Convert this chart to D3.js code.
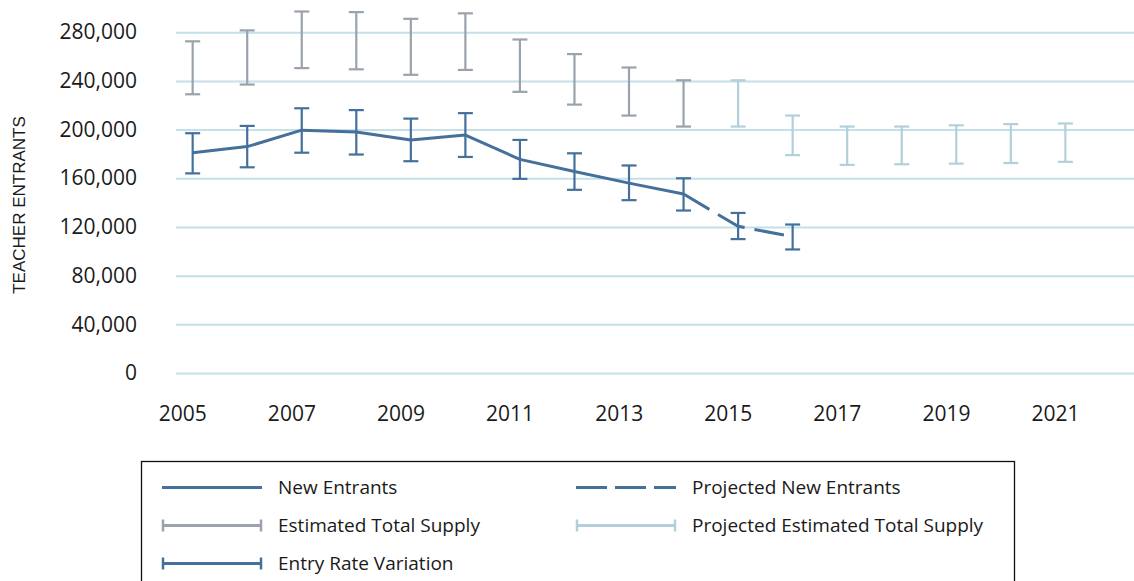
<!DOCTYPE html>
<html>
<head>
<meta charset="utf-8">
<script src="https://cdn.jsdelivr.net/npm/d3@7"></script>
<style>
  html, body { margin: 0; padding: 0; background: #fff; }
  svg { display: block; }
</style>
</head>
<body>
<svg id="chart" width="1134" height="581"></svg>
<script>
// ---- data ----
const years = [2005, 2006, 2007, 2008, 2009, 2010, 2011, 2012, 2013, 2014, 2015, 2016, 2017, 2018, 2019, 2020, 2021];
const entrantYears = [2005, 2006, 2007, 2008, 2009, 2010, 2011, 2012, 2013, 2014, 2015, 2016];
const newEntrants = [181000, 186000, 199500, 198000, 191500, 195500, 175500, 165500, 156000, 147000, 120500, 112000];
const entrantsHigh = [197000, 203000, 217500, 216000, 209000, 213500, 191500, 180500, 170500, 160000, 131500, 122000];
const entrantsLow = [164000, 169000, 181000, 179500, 174000, 177500, 159500, 150500, 142000, 133500, 110000, 101500];
const projectedFromYear = 2014;
const supplyHigh = [272500, 281500, 297000, 296500, 291000, 295500, 274000, 262000, 251000, 240500, 240500, 211500, 202500, 202500, 203500, 204500, 205000];
const supplyLow = [229000, 237000, 250500, 249500, 245000, 249000, 231000, 220500, 211500, 202500, 202500, 179000, 171000, 171500, 172000, 172500, 173500];
const supplyProjectedFrom = 2015;
const yTicks = [0, 40000, 80000, 120000, 160000, 200000, 240000, 280000];
const xTicks = [2005, 2007, 2009, 2011, 2013, 2015, 2017, 2019, 2021];
const yTitle = "TEACHER ENTRANTS";
const legendItems = ["New Entrants", "Projected New Entrants", "Estimated Total Supply", "Projected Estimated Total Supply", "Entry Rate Variation"];

// ---- styles ----
const C_LINE = "#44709b";
const C_SUPPLY = "#9aa2ab";
const C_PROJ = "#b3d0da";
const C_GRID = "#c4e0e8";
const C_TEXT = "#1a1a1a";
const TICK_FONT = "'Open Sans', 'Liberation Sans', sans-serif";
const pointShift = 0.19; // marks sit slightly after the year label

const svg = d3.select("#chart");
const x = d3.scaleLinear().domain([2005, 2021]).range([182.3, 1055]);
const y = d3.scaleLinear().domain([0, 280000]).range([373, 32.2]);
const px = yr => x(yr + pointShift);

// gridlines
const gridG = svg.append("g")
  .attr("transform", `translate(176,0)`)
  .call(d3.axisLeft(y).tickValues(yTicks).tickSize(-(1134 - 176)).tickFormat(""));
gridG.select(".domain").remove();
gridG.selectAll("line").attr("stroke", C_GRID).attr("stroke-width", 2);

// y tick labels
const yAx = svg.append("g").attr("transform", "translate(137,0)")
  .call(d3.axisLeft(y).tickValues(yTicks).tickSize(0).tickPadding(0).tickFormat(d3.format(",")));
yAx.select(".domain").remove();
yAx.selectAll("text").style("font-family", TICK_FONT).style("font-size", "21px").style("fill", C_TEXT);

// x tick labels
const xAx = svg.append("g").attr("transform", "translate(0,406)")
  .call(d3.axisBottom(x).tickValues(xTicks).tickSize(0).tickPadding(0).tickFormat(d3.format("d")));
xAx.select(".domain").remove();
xAx.selectAll("text").style("font-family", TICK_FONT).style("font-size", "21px").style("fill", C_TEXT);

// y title
svg.append("text")
  .attr("transform", `translate(25,205) rotate(-90)`)
  .attr("text-anchor", "middle")
  .style("font-family", "'Liberation Sans', Arial, sans-serif")
  .style("font-size", "17px")
  .style("fill", C_TEXT)
  .text(yTitle);

// error bar helper
function errBar(g, cx, hi, lo, color, cap) {
  g.append("line").attr("x1", cx).attr("x2", cx).attr("y1", y(hi)).attr("y2", y(lo))
    .attr("stroke", color).attr("stroke-width", 2.2);
  [hi, lo].forEach(v => g.append("line").attr("x1", cx - cap).attr("x2", cx + cap)
    .attr("y1", y(v)).attr("y2", y(v)).attr("stroke", color).attr("stroke-width", 2.2));
}

// supply bars
const supG = svg.append("g");
years.forEach((yr, i) => {
  errBar(supG, px(yr), supplyHigh[i], supplyLow[i], yr >= supplyProjectedFrom ? C_PROJ : C_SUPPLY, 7.5);
});

// new entrants line
const pts = entrantYears.map((yr, i) => ({ yr, v: newEntrants[i] }));
const line = d3.line().x(d => px(d.yr)).y(d => y(d.v));
svg.append("path").datum(pts.filter(d => d.yr <= projectedFromYear))
  .attr("d", line).attr("fill", "none").attr("stroke", C_LINE).attr("stroke-width", 3).attr("stroke-linejoin", "round");
svg.append("path").datum(pts.filter(d => d.yr >= projectedFromYear))
  .attr("d", line).attr("fill", "none").attr("stroke", C_LINE).attr("stroke-width", 3).attr("stroke-dasharray", "30,10");

// entry rate variation
const entG = svg.append("g");
entrantYears.forEach((yr, i) => errBar(entG, px(yr), entrantsHigh[i], entrantsLow[i], C_LINE, 7.5));

// legend
const lg = svg.append("g");
lg.append("rect").attr("x", 141.5).attr("y", 461.5).attr("width", 873).attr("height", 140)
  .attr("fill", "#fff").attr("stroke", "#111").attr("stroke-width", 1.3);
const cols = [162, 576];
const rows = [487.5, 525.5, 563.5];
const symW = 100;
const legendDefs = [
  { col: 0, row: 0, color: C_LINE, dash: null, caps: false },
  { col: 1, row: 0, color: C_LINE, dash: "31,8", caps: false },
  { col: 0, row: 1, color: C_SUPPLY, dash: null, caps: true },
  { col: 1, row: 1, color: C_PROJ, dash: null, caps: true },
  { col: 0, row: 2, color: C_LINE, dash: null, caps: true }
];
legendDefs.forEach((d, i) => {
  const x0 = cols[d.col], yy = rows[d.row];
  lg.append("line").attr("x1", x0).attr("x2", x0 + symW).attr("y1", yy).attr("y2", yy)
    .attr("stroke", d.color).attr("stroke-width", 3).attr("stroke-dasharray", d.dash);
  if (d.caps) {
    [x0 + 1, x0 + symW - 1].forEach(cx => lg.append("line").attr("x1", cx).attr("x2", cx)
      .attr("y1", yy - 6).attr("y2", yy + 6).attr("stroke", d.color).attr("stroke-width", 2.5));
  }
  lg.append("text").attr("x", x0 + symW + 16).attr("y", yy).attr("dy", "0.35em")
    .style("font-family", TICK_FONT).style("font-size", "19px").style("fill", C_TEXT)
    .text(legendItems[i]);
});
</script>
</body>
</html>
